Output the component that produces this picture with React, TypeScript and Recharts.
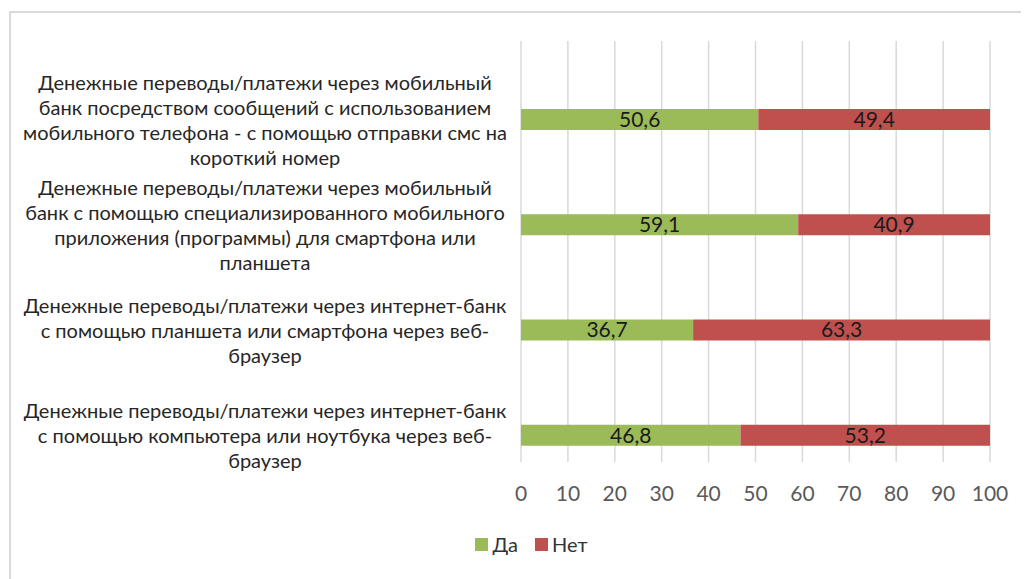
import { BarChart, Bar, XAxis, YAxis, CartesianGrid, Legend, LabelList } from 'recharts';

// Категории (переносы строк как в оригинале)
const categories = [
  'Денежные переводы/платежи через мобильный\nбанк посредством сообщений с использованием\nмобильного телефона - с помощью отправки смс на\nкороткий номер',
  'Денежные переводы/платежи через мобильный\nбанк с помощью специализированного мобильного\nприложения (программы) для смартфона или\nпланшета',
  'Денежные переводы/платежи через интернет-банк\nс помощью планшета или смартфона через веб-\nбраузер',
  'Денежные переводы/платежи через интернет-банк\nс помощью компьютера или ноутбука через веб-\nбраузер',
];
const yesValues = [50.6, 59.1, 36.7, 46.8];
const noValues = [49.4, 40.9, 63.3, 53.2];
const xTicks = [0, 10, 20, 30, 40, 50, 60, 70, 80, 90, 100];

const data = categories.map((category, i) => ({
  category,
  yes: yesValues[i],
  no: noValues[i],
}));

const FONT = 'Lato, "Open Sans", sans-serif';
const W = 1021;
const H = 571;
const LABEL_CX = 257;
const LINE_H = 25;
// в Excel сетка сдвинута вверх относительно полос
const GRID_SHIFT = 26;

function CategoryTick({ y, payload }: any) {
  const lines = String(payload.value).split('\n');
  const startY = y - ((lines.length - 1) * LINE_H) / 2;
  return (
    <text textAnchor="middle" fontSize={20} fontFamily={FONT} fill="#262626">
      {lines.map((line, i) => (
        <tspan key={i} x={LABEL_CX} y={startY + i * LINE_H} dominantBaseline="central">
          {line}
        </tspan>
      ))}
    </text>
  );
}

function ValueTick({ x, y, payload }: any) {
  return (
    <text x={x} y={y - 4} textAnchor="middle" dominantBaseline="central" fontSize={21} fontFamily={FONT} fill="#595959">
      {payload.value}
    </text>
  );
}

function GridLine(props: any) {
  return (
    <line
      x1={props.x1}
      x2={props.x2}
      y1={props.y1 - GRID_SHIFT}
      y2={props.y2 - GRID_SHIFT}
      stroke="#d9d9d9"
      strokeWidth={1.5}
    />
  );
}

function LegendContent({ payload }: any) {
  return (
    <div style={{ display: 'flex', justifyContent: 'center', gap: 17, fontFamily: FONT, fontSize: 20, color: '#333' }}>
      {(payload || []).map((p: any) => (
        <div key={p.value} style={{ display: 'flex', alignItems: 'center', gap: 4 }}>
          <span style={{ display: 'inline-block', width: 13, height: 13, background: p.color }} />
          <span>{p.value}</span>
        </div>
      ))}
    </div>
  );
}

const fmt = (v: any) => String(v).replace('.', ',');

export default function App() {
  return (
    <div style={{ position: 'relative', width: W, height: H, overflow: 'hidden', background: '#fff' }}>
      <div
        style={{
          position: 'absolute',
          left: 1,
          top: 3,
          width: W + 20,
          height: H + 20,
          borderTop: '2px solid #d9d9d9',
          borderLeft: '2px solid #d9d9d9',
        }}
      />
      <div style={{ position: 'absolute', left: 0, top: 0 }}>
        <BarChart
          width={W}
          height={H}
          layout="vertical"
          data={data}
          margin={{ top: 59, right: 39, bottom: 17, left: 0 }}
        >
          <CartesianGrid horizontal={false} vertical={GridLine} />
          <XAxis
            type="number"
            domain={[0, 100]}
            ticks={xTicks}
            interval={0}
            axisLine={false}
            tickLine={false}
            height={50}
            tick={<ValueTick />}
          />
          <YAxis
            type="category"
            dataKey="category"
            width={513}
            axisLine={false}
            tickLine={false}
            tick={<CategoryTick />}
          />
          <Legend
            verticalAlign="bottom"
            align="center"
            wrapperStyle={{ top: 524, left: 13, width: W }}
            content={<LegendContent />}
          />
          <Bar dataKey="yes" name="Да" stackId="a" fill="#9BBB59" barSize={21} isAnimationActive={false}>
            <LabelList dataKey="yes" position="center" formatter={fmt} fill="#1a1a1a" fontSize={21} fontFamily={FONT} />
          </Bar>
          <Bar dataKey="no" name="Нет" stackId="a" fill="#C0504D" barSize={21} isAnimationActive={false}>
            <LabelList dataKey="no" position="center" formatter={fmt} fill="#1a1a1a" fontSize={21} fontFamily={FONT} />
          </Bar>
        </BarChart>
      </div>
    </div>
  );
}
